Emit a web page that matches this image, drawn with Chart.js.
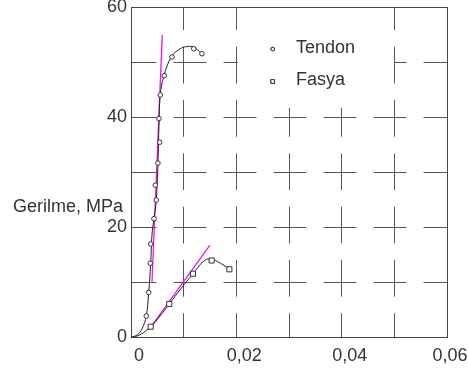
<!DOCTYPE html>
<html><head><meta charset="utf-8">
<script src="https://cdn.jsdelivr.net/npm/chart.js@4.4.0/dist/chart.umd.min.js"></script>
<style>html,body{margin:0;padding:0;background:#fff;}#c{display:block;}</style>
</head><body>
<canvas id="c" width="468" height="371"></canvas>
<script>
// ---- tick labels / titles ----
const xTickLabels = ['0', '', '0,02', '', '0,04', '', '0,06  '];
const yTickLabels = ['0', '', '20', '', '40', '', '60'];
const yAxisTitle = 'Gerilme, MPa';

// ---- Tendon: measured points ----
const tendonStrain = [0.0029, 0.00336, 0.00366, 0.00374, 0.00436, 0.0048, 0.00461, 0.00512, 0.00544, 0.00531, 0.00556, 0.0063, 0.00778, 0.01191, 0.01347];
const tendonStress = [3.9, 8.2, 13.5, 17.0, 21.6, 25.0, 27.7, 31.7, 35.5, 39.8, 44.1, 47.6, 51.0, 52.5, 51.6];
// ---- Tendon: fitted curve ----
const tendonCurveStrain = [0, 0.0012, 0.0021, 0.0029, 0.00336, 0.00374, 0.00398, 0.00436, 0.0048, 0.00512, 0.00531, 0.00556, 0.00626, 0.00772, 0.00954, 0.0108, 0.01189, 0.01347];
const tendonCurveStress = [0, 0.5, 1.6, 3.9, 8.2, 13.5, 18.6, 21.6, 25.0, 31.7, 38.6, 44.1, 47.6, 51.1, 52.6, 52.9, 52.8, 51.6];
// ---- Tendon: tangent (modulus) line ----
const tendonTangentStrain = [0.00398, 0.00594];
const tendonTangentStress = [9.9, 55.0];

// ---- Fasya: measured points ----
const fasyaStrain = [0.00374, 0.00727, 0.01176, 0.01531, 0.01868];
const fasyaStress = [1.96, 6.1, 11.6, 14.0, 12.4];
// ---- Fasya: fitted curve ----
const fasyaCurveStrain = [0, 0.0017, 0.00374, 0.0055, 0.00727, 0.0095, 0.01176, 0.0137, 0.0150, 0.0170, 0.01868];
const fasyaCurveStress = [0, 0.5, 1.96, 3.9, 6.1, 8.9, 11.6, 13.8, 14.3, 13.5, 12.4];
// ---- Fasya: tangent line ----
const fasyaTangentStrain = [0.00351, 0.01499];
const fasyaTangentStress = [1.55, 16.8];

const pts = (xs, ys) => xs.map((x, i) => ({x: x, y: ys[i]}));
const FONT = "'Liberation Sans', Arial, Helvetica, sans-serif";
const TXT = '#333';
const GRID = '#555';
const MAGENTA = '#f010f0';

Chart.defaults.font.family = FONT;
Chart.defaults.font.size = 18;
Chart.defaults.color = TXT;

const framePlugin = {
  id: 'frame',
  beforeDatasetsDraw(chart) {
    const {ctx, chartArea: a} = chart;
    // legend background box (covers grid)
    ctx.save();
    ctx.fillStyle = '#fff';
    ctx.fillRect(238, 8, 156, 100);
    ctx.strokeStyle = '#444';
    ctx.lineWidth = 1;
    const l = Math.round(a.left - 0.5) + 0.5, r = Math.round(a.right - 0.5) + 0.5;
    const t = Math.round(a.top - 0.5) + 0.5, b = Math.round(a.bottom - 0.5) + 0.5;
    ctx.strokeRect(l, t, r - l, b - t);
    // legend entries
    const items = chart.data.datasets.filter(d => d.inLegend);
    items.forEach((d, i) => {
      const y = 49 + i * 32.5;
      Chart.helpers.drawPoint(ctx, {pointStyle: d.pointStyle, radius: d.pointStyle === 'rect' ? 2.6 : 1.8, rotation: 0, borderWidth: 1}, 272.7, y);
      ctx.fillStyle = '#fff'; ctx.fill();
      ctx.strokeStyle = '#333'; ctx.lineWidth = 1; ctx.stroke();
      ctx.fillStyle = TXT;
      ctx.font = '18px ' + FONT;
      ctx.textAlign = 'left';
      ctx.textBaseline = 'middle';
      ctx.fillText(d.label, 296, y - 1);
    });
    // y axis title (horizontal)
    ctx.fillStyle = TXT;
    ctx.font = '18px ' + FONT;
    ctx.textAlign = 'left';
    ctx.textBaseline = 'middle';
    ctx.fillText(yAxisTitle, 13, 207);
    ctx.restore();
  }
};

const hideEdge = (c) => (c.index === 0 || c.index === 6) ? 'rgba(0,0,0,0)' : GRID;

new Chart(document.getElementById('c'), {
  type: 'scatter',
  data: {
    datasets: [
      {label: 'Tendon', inLegend: true, data: pts(tendonStrain, tendonStress), pointStyle: 'circle', pointRadius: 2.3,
       pointBorderWidth: 1, borderColor: '#333', backgroundColor: '#fff', showLine: false},
      {label: 'Fasya', inLegend: true, data: pts(fasyaStrain, fasyaStress), pointStyle: 'rect', pointRadius: 3.6,
       pointBorderWidth: 1, borderColor: '#333', backgroundColor: '#fff', showLine: false},
      {label: 'Tendon eğri', data: pts(tendonCurveStrain, tendonCurveStress), showLine: true, pointRadius: 0,
       borderColor: '#222', borderWidth: 1, tension: 0.4},
      {label: 'Fasya eğri', data: pts(fasyaCurveStrain, fasyaCurveStress), showLine: true, pointRadius: 0,
       borderColor: '#222', borderWidth: 1, tension: 0.4},
      {label: 'Tendon teğet', data: pts(tendonTangentStrain, tendonTangentStress), showLine: true, pointRadius: 0,
       borderColor: MAGENTA, borderWidth: 1.3},
      {label: 'Fasya teğet', data: pts(fasyaTangentStrain, fasyaTangentStress), showLine: true, pointRadius: 0,
       borderColor: MAGENTA, borderWidth: 1.3}
    ]
  },
  options: {
    responsive: false,
    animation: false,
    devicePixelRatio: 1,
    layout: {padding: {left: 0, right: 21, top: 7.5, bottom: 0}},
    plugins: {legend: {display: false}, tooltip: {enabled: false}},
    scales: {
      x: {
        type: 'linear', min: 0, max: 0.06,
        afterFit(s) { s.height = 33.5; s.paddingLeft = 0; s.paddingRight = 0; },
        ticks: {stepSize: 0.01, autoSkip: false, maxRotation: 0, padding: 8, labelOffset: 8, color: TXT,
                callback: (v, i) => xTickLabels[i] ?? ''},
        grid: {color: hideEdge, lineWidth: 1, drawTicks: false},
        border: {display: true, color: '#444', width: 1, dash: [36.7, 16.6], dashOffset: 14}
      },
      y: {
        type: 'linear', min: 0, max: 60,
        afterFit(s) { s.width = 131; s.paddingTop = 0; s.paddingBottom = 0; },
        ticks: {stepSize: 10, autoSkip: false, padding: 4, color: TXT,
                callback: (v, i) => yTickLabels[i] ?? ''},
        grid: {color: hideEdge, lineWidth: 1, drawTicks: false},
        border: {display: true, color: '#444', width: 1, dash: [33, 17], dashOffset: 8.5}
      }
    }
  },
  plugins: [framePlugin]
});
</script>
</body></html>
